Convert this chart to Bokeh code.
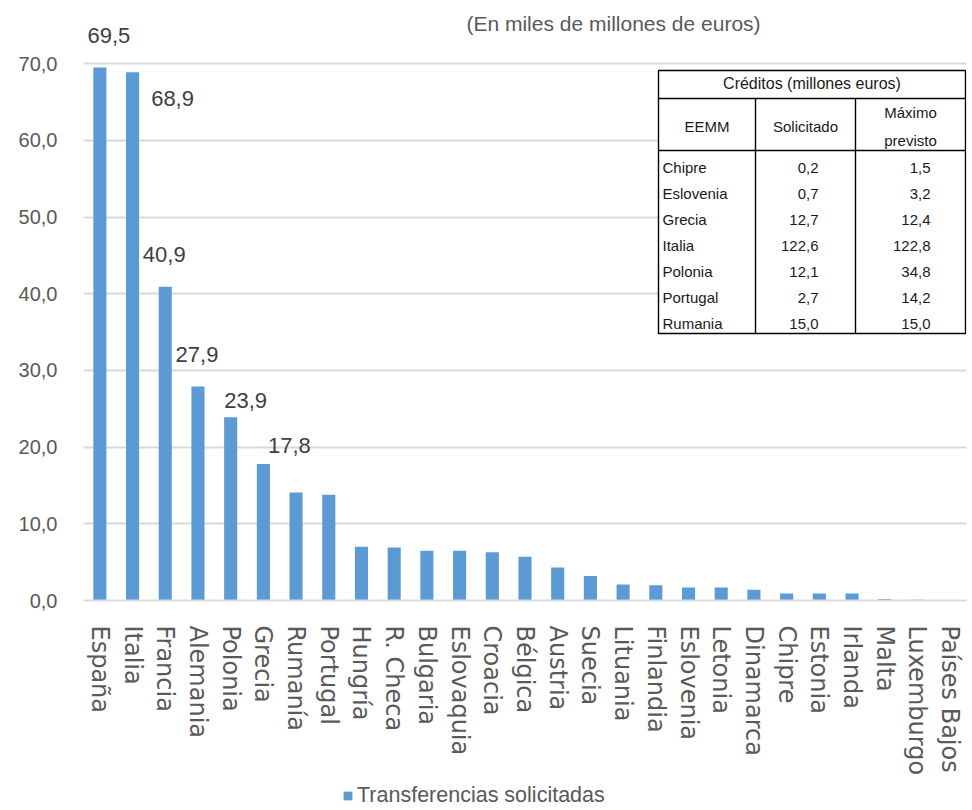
from bokeh.plotting import figure
from bokeh.layouts import column
from bokeh.models import FixedTicker, Range1d, Legend, LegendItem, ColumnDataSource
from bokeh.core.properties import value
from bokeh.embed import file_html
from bokeh.resources import INLINE

# ---------------- data ----------------
countries = ["España", "Italia", "Francia", "Alemania", "Polonia", "Grecia", "Rumanía",
             "Portugal", "Hungría", "R. Checa", "Bulgaria", "Eslovaquia", "Croacia",
             "Bélgica", "Austria", "Suecia", "Lituania", "Finlandia", "Eslovenia",
             "Letonia", "Dinamarca", "Chipre", "Estonia", "Irlanda", "Malta",
             "Luxemburgo", "Países Bajos"]
transfers = [69.5, 68.9, 40.9, 27.9, 23.9, 17.8, 14.1, 13.8, 7.0, 6.9, 6.5, 6.5, 6.3,
             5.7, 4.3, 3.2, 2.1, 2.0, 1.7, 1.7, 1.4, 0.9, 0.9, 0.9, 0.2, 0.1, 0.0]
series_name = "Transferencias solicitadas"
y_ticks = [0, 10, 20, 30, 40, 50, 60, 70]

labelled = ["España", "Italia", "Francia", "Alemania", "Polonia", "Grecia"]

table_title = "Créditos (millones euros)"
table_headers = ["EEMM", "Solicitado", "Máximo\nprevisto"]
table_countries = ["Chipre", "Eslovenia", "Grecia", "Italia", "Polonia", "Portugal", "Rumania"]
table_solicitado = [0.2, 0.7, 12.7, 122.6, 12.1, 2.7, 15.0]
table_maximo = [1.5, 3.2, 12.4, 122.8, 34.8, 14.2, 15.0]

chart_note = "(En miles de millones de euros)"

# ---------------- layout ----------------
W, H = 970, 784
BL, BR, BT, BB = 83, 4, 8, 184
FW = W - BL - BR
FH = H - BT - BB
Y_END = 77.2
N = len(countries)

def fx(px):  # page pixel x -> data x
    return -0.5 + (px - BL) * N / FW

def fy(py):  # page pixel y -> data y
    return Y_END - (py - BT) * Y_END / FH

def fmt(v):
    return f"{v:.1f}".replace(".", ",")

GRAY = "#595959"
BLUE = "#5b9bd5"
FONT = value("Liberation Sans")

p = figure(width=W, height=H, output_backend="svg", toolbar_location=None,
           x_range=Range1d(-0.5, N - 0.5), y_range=Range1d(0, Y_END),
           min_border_left=BL, min_border_right=BR, min_border_top=BT,
           min_border_bottom=BB, outline_line_color=None,
           background_fill_color="white", border_fill_color="white")

xs = list(range(N))
src = ColumnDataSource(dict(x=xs, top=transfers, name=countries))
bars = p.vbar(x="x", top="top", width=0.4, source=src, fill_color=BLUE, line_color=None)

# data labels
lab_dx = [9, 40, -1, -1, 15, 26]
lab_dy = [-32, 26, -32, -32, -17, -19]
lx = [countries.index(c) for c in labelled]
ly = [transfers[i] for i in lx]
p.text(x=lx, y=ly, text=[fmt(v) for v in ly], x_offset=lab_dx, y_offset=lab_dy,
       text_align="center", text_baseline="middle", text_font=FONT,
       text_font_size="22px", text_color="#404040")

# note at top
p.text(x=[fx(613)], y=[fy(23)], text=[chart_note], text_align="center",
       text_baseline="middle", text_font=FONT, text_font_size="21px", text_color=GRAY)

# axes
p.yaxis.ticker = FixedTicker(ticks=y_ticks)
p.yaxis.major_label_overrides = {t: fmt(t) for t in y_ticks}
p.yaxis.axis_line_color = None
p.yaxis.major_tick_line_color = None
p.yaxis.minor_tick_line_color = None
p.yaxis.major_label_standoff = 20
p.yaxis.major_label_text_font = "Liberation Sans"
p.yaxis.major_label_text_font_size = "20px"
p.yaxis.major_label_text_color = GRAY

p.xaxis.ticker = FixedTicker(ticks=xs)
p.xaxis.major_label_overrides = {i: c for i, c in enumerate(countries)}
p.xaxis.major_label_orientation = "vertical"
p.xaxis.axis_line_color = "#d9d9d9"
p.xaxis.axis_line_width = 2
p.xaxis.major_tick_line_color = None
p.xaxis.minor_tick_line_color = None
p.xaxis.major_label_standoff = 19
p.xaxis.major_label_text_font = "DejaVu Sans"
p.xaxis.major_label_text_font_size = "24px"
p.xaxis.major_label_text_color = GRAY

p.xgrid.visible = False
p.ygrid.ticker = FixedTicker(ticks=y_ticks)
p.ygrid.grid_line_color = "#d9d9d9"
p.ygrid.grid_line_width = 2

# ---------------- inset table ----------------
TL, TR, TT, TB = 658, 965, 70, 333
C1, C2 = 755, 855
R1, R2 = 98, 150
p.quad(left=[fx(TL)], right=[fx(TR)], top=[fy(TT)], bottom=[fy(TB)],
       fill_color="white", line_color="black", line_width=1.4)
p.segment(x0=[fx(TL), fx(TL), fx(C1), fx(C2)], y0=[fy(R1), fy(R2), fy(R1), fy(R1)],
          x1=[fx(TR), fx(TR), fx(C1), fx(C2)], y1=[fy(R1), fy(R2), fy(TB), fy(TB)],
          line_color="black", line_width=1.4)
TFS = "15px"
TC = "#1a1a1a"
p.text(x=[fx((TL + TR) / 2)], y=[fy(83)], text=[table_title], text_align="center",
       text_baseline="middle", text_font=FONT, text_font_size="16px", text_color=TC)
hx = [fx((TL + C1) / 2), fx((C1 + C2) / 2), fx((C2 + TR) / 2)]
p.text(x=hx, y=[fy(126)] * 3, text=table_headers, text_align="center",
       text_baseline="middle", text_font=FONT, text_font_size=TFS, text_color=TC,
       text_line_height=1.6)
ry = [fy(167 + 26 * i) for i in range(len(table_countries))]
p.text(x=[fx(662)] * len(ry), y=ry, text=table_countries, text_align="left",
       text_baseline="middle", text_font=FONT, text_font_size=TFS, text_color=TC)
p.text(x=[fx(818)] * len(ry), y=ry, text=[fmt(v) for v in table_solicitado],
       text_align="right", text_baseline="middle", text_font=FONT,
       text_font_size=TFS, text_color=TC)
p.text(x=[fx(930)] * len(ry), y=ry, text=[fmt(v) for v in table_maximo],
       text_align="right", text_baseline="middle", text_font=FONT,
       text_font_size=TFS, text_color=TC)

# ---------------- legend (strip below the chart) ----------------
LH = 24
pl = figure(width=W, height=LH, output_backend="svg", toolbar_location=None,
            x_range=Range1d(0, W), y_range=Range1d(0, LH), min_border=0,
            min_border_left=BL, min_border_right=BR,
            x_axis_type=None, y_axis_type=None, outline_line_color=None,
            background_fill_color="white", border_fill_color="white")
pl.grid.visible = False
key = pl.vbar(x="x", top="top", width=0.4, source=src, fill_color=BLUE,
              line_color=None, visible=False)
legend = Legend(items=[LegendItem(label=series_name, renderers=[key])],
                location=(342 - BL, 0), orientation="horizontal",
                glyph_width=11, glyph_height=11, label_standoff=4, label_height=20,
                label_text_font="Liberation Sans", label_text_font_size="21.5px",
                label_text_color=GRAY, border_line_color=None,
                background_fill_alpha=0, padding=0, margin=0)
pl.add_layout(legend)

page = column(p, pl, spacing=0)
open("out.html", "w").write(file_html(page, INLINE))
